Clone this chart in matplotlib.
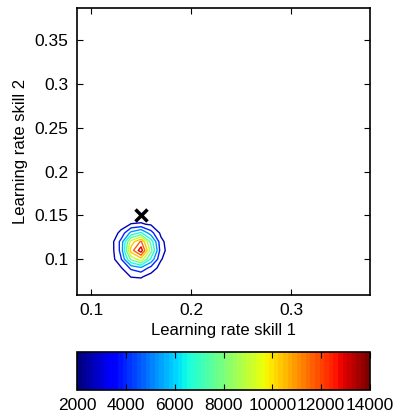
import matplotlib
matplotlib.use("Agg")
import matplotlib.pyplot as plt
import numpy as np

plt.rcParams['font.family'] = ['Liberation Sans', 'DejaVu Sans']

# grid of learning rates (skill 1 on x, skill 2 on y)
rate1 = [0.12, 0.13, 0.14, 0.15, 0.16, 0.17, 0.18]
rate2 = [0.07, 0.08, 0.09, 0.10, 0.11, 0.12, 0.13, 0.14, 0.15]
# likelihood surface, one row per rate2 value
z = [
    [1604, 1627, 1681, 1704, 1658, 1614, 1601],
    [1629, 1802, 2650, 2750, 2028, 1702, 1610],
    [1725, 2467, 4175, 4918, 3433, 2039, 1645],
    [1913, 3775, 8057, 9919, 6195, 2700, 1712],
    [1950, 4300, 11033, 13753, 8313, 3207, 1764],
    [1988, 4298, 9612, 11922, 7302, 2965, 1739],
    [1794, 2946, 5596, 6749, 4444, 2281, 1670],
    [1655, 1985, 2650, 2750, 2415, 1795, 1620],
    [1609, 1664, 1791, 1846, 1736, 1633, 1603],
]
levels = [2600, 3900, 5200, 6500, 7800, 9100, 10400, 11700, 13000]
true_rate = (0.15, 0.15)

fig = plt.figure(figsize=(3.97, 4.18), dpi=100)
ax = fig.add_axes([0.194, 0.294, 0.738, 0.687])
cax = fig.add_axes([0.194, 0.067, 0.738, 0.091])

cmap = plt.get_cmap('jet', 64)
norm = matplotlib.colors.Normalize(vmin=2000, vmax=14000)
cs = ax.contour(rate1, rate2, np.array(z), levels=levels, cmap=cmap, norm=norm, linewidths=1.0)
ax.plot(true_rate[0], true_rate[1], 'kx', markersize=8.5, markeredgewidth=2.5)

ax.set_xlim(0.086, 0.379)
ax.set_ylim(0.059, 0.387)
ax.set_xticks([0.1, 0.2, 0.3])
ax.set_xticklabels(['0.1', '0.2', '0.3'])
ax.set_yticks([0.1, 0.15, 0.2, 0.25, 0.3, 0.35])
ax.set_yticklabels(['0.1', '0.15', '0.2', '0.25', '0.3', '0.35'])
ax.tick_params(direction='in', top=True, right=True, length=4, labelsize=12.5, pad=6)
ax.set_xlabel('Learning rate skill 1', fontsize=12, labelpad=3)
ax.set_ylabel('Learning rate skill 2', fontsize=12, labelpad=5)
for s in ax.spines.values():
    s.set_linewidth(1.2)

sm = matplotlib.cm.ScalarMappable(norm=norm, cmap=cmap)
cb = fig.colorbar(sm, cax=cax, orientation='horizontal', ticks=[2000, 4000, 6000, 8000, 10000, 12000, 14000])
cb.outline.set_linewidth(1.2)
cax.tick_params(direction='in', top=True, bottom=True, length=4, labelsize=12.5, pad=6)

fig.savefig('out.png', dpi=100)
